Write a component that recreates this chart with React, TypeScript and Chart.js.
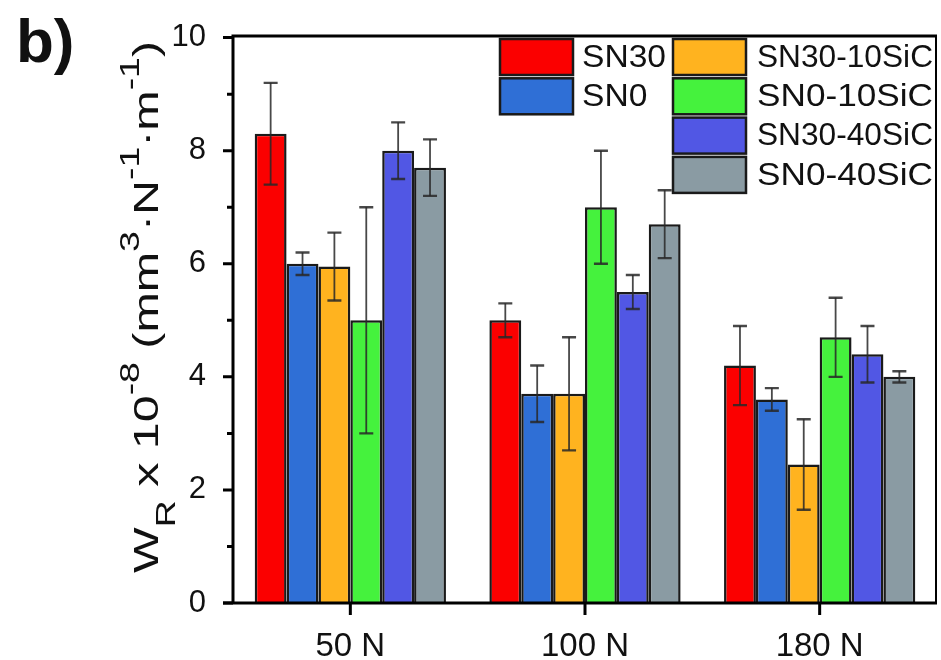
import React, { useEffect, useRef } from 'react';
import { Chart, registerables } from 'chart.js';

Chart.register(...registerables);

const categories = ['50 N', '100 N', '180 N'];
const seriesNames = ['SN30', 'SN0', 'SN30-10SiC', 'SN0-10SiC', 'SN30-40SiC', 'SN0-40SiC'];
const sn30 = [8.3, 5.0, 4.2];
const sn30Err = [0.9, 0.3, 0.7];
const sn0 = [6.0, 3.7, 3.6];
const sn0Err = [0.2, 0.5, 0.2];
const sn30_10SiC = [5.95, 3.7, 2.45];
const sn30_10SiCErr = [0.6, 1.0, 0.8];
const sn0_10SiC = [5.0, 7.0, 4.7];
const sn0_10SiCErr = [2.0, 1.0, 0.7];
const sn30_40SiC = [8.0, 5.5, 4.4];
const sn30_40SiCErr = [0.5, 0.3, 0.5];
const sn0_40SiC = [7.7, 6.7, 4.0];
const sn0_40SiCErr = [0.5, 0.6, 0.1];
const seriesColors = ['#fb0000', '#2f6fd6', '#ffb31f', '#45f23d', '#5157e4', '#8a9ba3'];
const yMajorTicks = [0, 2, 4, 6, 8, 10];
const yMinorTicks = [1, 3, 5, 7, 9];

const FONT = "'Liberation Sans', Arial, sans-serif";

const decorPlugin = {
  id: 'decor',
  afterDatasetsDraw(chart: any) {
    const ctx = chart.ctx;
    const y = chart.scales.y;
    chart.data.datasets.forEach((ds: any, i: number) => {
      const meta = chart.getDatasetMeta(i);
      meta.data.forEach((bar: any, j: number) => {
        const v = ds.data[j];
        const e = ds.errors[j];
        const yt = y.getPixelForValue(v + e);
        const yb = y.getPixelForValue(v - e);
        const x = bar.x;
        ctx.save();
        ctx.strokeStyle = 'rgba(40,40,40,0.85)';
        ctx.lineWidth = 1.8;
        ctx.beginPath();
        ctx.moveTo(x, yt);
        ctx.lineTo(x, yb);
        ctx.stroke();
        ctx.lineWidth = 2.4;
        ctx.beginPath();
        ctx.moveTo(x - 7, yt);
        ctx.lineTo(x + 7, yt);
        ctx.moveTo(x - 7, yb);
        ctx.lineTo(x + 7, yb);
        ctx.stroke();
        ctx.restore();
      });
    });
  },
  afterDraw(chart: any) {
    const ctx = chart.ctx;
    const { left, right, top, bottom } = chart.chartArea;
    const y = chart.scales.y;
    const x = chart.scales.x;
    ctx.save();
    // frame
    ctx.strokeStyle = '#000';
    ctx.lineWidth = 3;
    ctx.beginPath();
    ctx.moveTo(left - 10, bottom);
    ctx.lineTo(right, bottom);
    ctx.moveTo(left, bottom + 1.5);
    ctx.lineTo(left, top - 1.5);
    ctx.lineTo(right, top - 1.5);
    ctx.stroke();
    ctx.lineWidth = 2;
    ctx.beginPath();
    ctx.moveTo(right - 1, top - 1.5);
    ctx.lineTo(right - 1, bottom);
    ctx.stroke();
    // y ticks
    ctx.lineWidth = 3;
    ctx.beginPath();
    yMajorTicks.forEach((t) => {
      const py = y.getPixelForValue(t);
      ctx.moveTo(left - 10, py);
      ctx.lineTo(left, py);
    });
    yMinorTicks.forEach((t) => {
      const py = y.getPixelForValue(t);
      ctx.moveTo(left - 6, py);
      ctx.lineTo(left, py);
    });
    ctx.stroke();
    // x ticks
    ctx.beginPath();
    categories.forEach((_c, i) => {
      const px = x.getPixelForValue(i);
      ctx.moveTo(px, bottom);
      ctx.lineTo(px, bottom + 12);
    });
    ctx.stroke();

    // legend
    const rowTop = 39;
    const pitch = 39.3;
    const boxH = 36;
    const cols = [
      { boxX: 500, textX: 582, items: [0, 1] },
      { boxX: 673, textX: 757, items: [2, 3, 4, 5] },
    ];
    ctx.textBaseline = 'middle';
    ctx.textAlign = 'left';
    cols.forEach((col) => {
      col.items.forEach((idx, r) => {
        const ds = chart.data.datasets[idx];
        const by = rowTop + r * pitch;
        ctx.fillStyle = ds.backgroundColor;
        ctx.fillRect(col.boxX, by, 73, boxH);
        ctx.strokeStyle = '#1a1a1a';
        ctx.lineWidth = 2.5;
        ctx.strokeRect(col.boxX, by, 73, boxH);
        ctx.fillStyle = '#111';
        ctx.font = `32px ${FONT}`;
        const w = ctx.measureText(ds.label).width;
        const sxl = idx >= 2 ? Math.min(1.1, 176 / w) : 1.05;
        ctx.save();
        ctx.translate(col.textX, by + boxH / 2 + 1);
        ctx.scale(sxl, 1);
        ctx.fillText(ds.label, 0, 0);
        ctx.restore();
      });
    });

    // panel label
    ctx.font = `bold 62px ${FONT}`;
    ctx.textBaseline = 'alphabetic';
    ctx.fillStyle = '#111';
    ctx.fillText('b)', 16, 62);

    // y axis title
    const main = 35;
    const small = 27;
    const parts = [
      { t: 'W', m: 0 },
      { t: 'R', m: -1 },
      { t: ' x 10', m: 0 },
      { t: '-8', m: 1 },
      { t: ' (mm', m: 0 },
      { t: '3', m: 1 },
      { t: '·N', m: 0 },
      { t: '-1', m: 1 },
      { t: '·m', m: 0 },
      { t: '-1', m: 1 },
      { t: ')', m: 0 },
    ];
    let total = 0;
    const widths = parts.map((p) => {
      ctx.font = `${p.m === 0 ? main : small}px ${FONT}`;
      const w = ctx.measureText(p.t).width;
      total += w;
      return w;
    });
    const target = 532;
    const sx = target / total;
    ctx.translate(158, 573);
    ctx.rotate(-Math.PI / 2);
    ctx.scale(sx, 1);
    let cx = 0;
    parts.forEach((p, i) => {
      ctx.font = `${p.m === 0 ? main : small}px ${FONT}`;
      const dy = p.m === -1 ? 17 : p.m === 1 ? -19 : 0;
      ctx.fillText(p.t, cx, dy);
      cx += widths[i];
    });
    ctx.restore();
  },
};

export default function App() {
  const ref = useRef<HTMLCanvasElement | null>(null);
  useEffect(() => {
    if (!ref.current) return;
    const values = [sn30, sn0, sn30_10SiC, sn0_10SiC, sn30_40SiC, sn0_40SiC];
    const errors = [sn30Err, sn0Err, sn30_10SiCErr, sn0_10SiCErr, sn30_40SiCErr, sn0_40SiCErr];
    const chart = new Chart(ref.current, {
      type: 'bar',
      data: {
        labels: categories,
        datasets: seriesNames.map((name, i) => ({
          label: name,
          data: values[i],
          errors: errors[i],
          backgroundColor: seriesColors[i],
          borderColor: '#1a1a1a',
          borderWidth: 2.5,
          categoryPercentage: 0.815,
          barPercentage: 1,
        })) as any,
      },
      options: {
        animation: false,
        responsive: false,
        maintainAspectRatio: false,
        layout: { padding: { top: 30, right: 4, left: 0, bottom: 0 } },
        plugins: { legend: { display: false }, tooltip: { enabled: false } },
        scales: {
          x: {
            offset: true,
            grid: { display: false },
            border: { display: false },
            ticks: { font: { size: 33, family: FONT }, color: '#111', padding: 16 },
            afterFit: (s: any) => {
              s.height = 57;
            },
          },
          y: {
            min: 0,
            max: 10,
            grid: { display: false },
            border: { display: false },
            ticks: {
              stepSize: 2,
              font: { size: 31, family: FONT },
              color: '#111',
              padding: 19,
            },
            afterFit: (s: any) => {
              s.width = 233;
            },
          },
        },
      },
      plugins: [decorPlugin],
    } as any);
    return () => chart.destroy();
  }, []);
  return (
    <div style={{ position: 'absolute', left: 0, top: 0, width: 941, height: 660, background: '#fff' }}>
      <canvas ref={ref} width={941} height={660} style={{ width: 941, height: 660 }} />
    </div>
  );
}
